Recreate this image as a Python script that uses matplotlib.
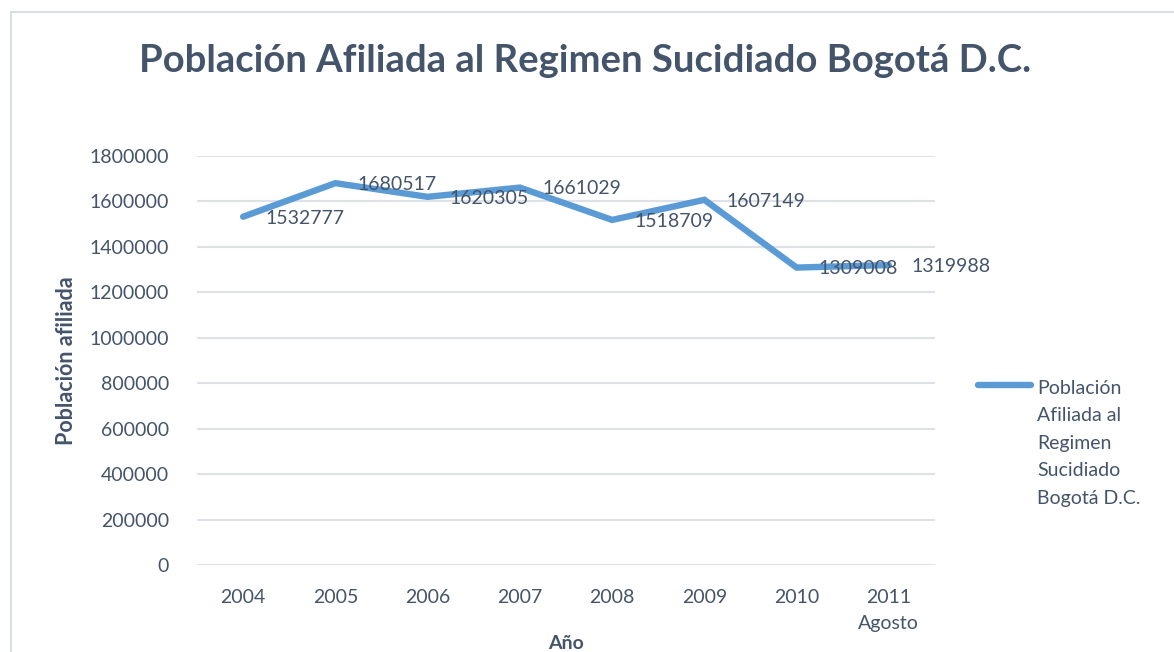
import matplotlib
matplotlib.use('Agg')
import matplotlib.pyplot as plt
from matplotlib.patches import Rectangle

# data
years = ['2004', '2005', '2006', '2007', '2008', '2009', '2010', '2011\nAgosto']
afiliados = [1532777, 1680517, 1620305, 1661029, 1518709, 1607149, 1309008, 1319988]
yticks = [0, 200000, 400000, 600000, 800000, 1000000, 1200000, 1400000, 1600000, 1800000]
serie = 'Población\nAfiliada al\nRegimen\nSucidiado\nBogotá D.C.'

TXT = '#44546A'
LINE = '#5B9BD5'
GRID = '#DEE2E8'
plt.rcParams['font.family'] = ['Lato', 'DejaVu Sans']

W, H = 1174, 652
fig = plt.figure(figsize=(W / 100, H / 100), dpi=100)
fig.patch.set_facecolor('white')

# chart border (runs off the right and bottom edges)
fig.patches.append(Rectangle((11 / W, -0.05), 1.1, 1 - 12 / H + 0.05,
                             transform=fig.transFigure, fill=False,
                             edgecolor='#D9DEE6', lw=1.5))

ax = fig.add_axes([197 / W, 1 - 565 / H, 738 / W, 409 / H])
x = list(range(len(years)))
ax.plot(x, afiliados, color=LINE, lw=4.6, solid_joinstyle='miter',
        solid_capstyle='round', label=serie, zorder=3)

for xi, v in zip(x, afiliados):
    ax.annotate(str(v), (xi, v), xytext=(16, -1), textcoords='offset points',
                ha='left', va='center', fontsize=14, color=TXT, zorder=4)

ax.set_xlim(-0.5, len(years) - 0.5)
ax.set_ylim(0, 1800000)
ax.set_yticks(yticks)
ax.set_yticklabels([str(t) for t in yticks])
ax.set_xticks(x)
ax.set_xticklabels(years, linespacing=1.7)
ax.tick_params(length=0, labelsize=14, colors=TXT)
ax.tick_params(axis='x', pad=17)
ax.tick_params(axis='y', pad=20)
ax.grid(axis='y', color=GRID, lw=1.5)
ax.set_axisbelow(True)
for s in ax.spines.values():
    s.set_visible(False)

ax.set_xlabel('Año', fontsize=14, fontweight='bold', color=TXT, labelpad=2)
ax.set_ylabel('Población afiliada', fontsize=15.5, fontweight='bold', color=TXT, labelpad=9)

fig.text(585 / W, 1 - 61 / H, 'Población Afiliada al Regimen Sucidiado Bogotá D.C.',
         ha='center', va='center', fontsize=27.5, fontweight='bold', color=TXT)

leg = ax.legend(loc='upper left', bbox_to_anchor=(970 / W, 1 - 372 / H),
                bbox_transform=fig.transFigure, frameon=False, fontsize=14,
                labelcolor=TXT, handlelength=2.75, handletextpad=0.3,
                borderaxespad=0)
for t in leg.get_texts():
    t.set_linespacing(1.75)
# Excel puts the legend key next to the first line of the label
hl = leg.get_lines()[0]
hl.set_ydata([yy + 42 for yy in hl.get_ydata()])

fig.savefig('out.png', dpi=100, facecolor='white')
